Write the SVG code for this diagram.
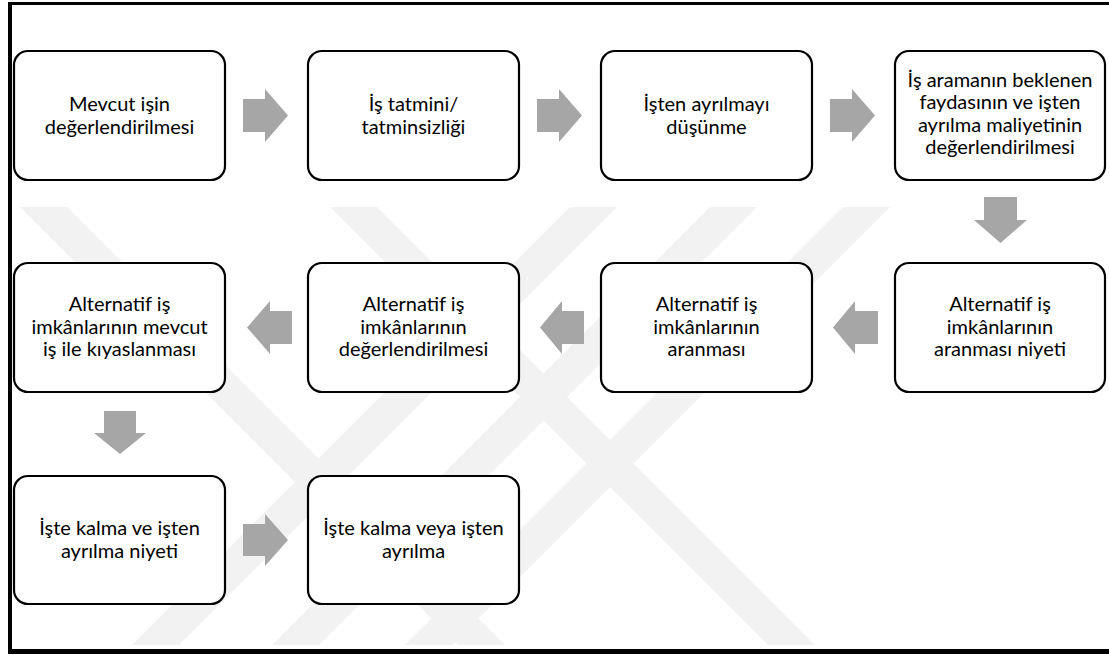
<svg xmlns="http://www.w3.org/2000/svg" width="1109" height="655" viewBox="0 0 1109 655">
<style>
.box{fill:#fff;stroke:#000;stroke-width:2.2}
.t{font-family:Lato,"Noto Sans",sans-serif;font-size:20px;fill:#000;text-anchor:middle}
.arr{fill:#a6a6a6}
.wm{fill:#f2f2f2}
</style>
<defs>
<clipPath id="wc"><rect x="12" y="195" width="1093" height="450"/></clipPath>
</defs>
<rect x="0" y="0" width="1109" height="655" fill="#fff"/>
<g id="watermark" clip-path="url(#wc)">
<polygon class="wm" points="570,207 617,207 179,645 132,645"/>
<polygon class="wm" points="710,207 757,207 319,645 272,645"/>
<polygon class="wm" points="843,207 890,207 452,645 405,645"/>
<polygon class="wm" points="330,207 377,207 815,645 768,645"/>
<polygon class="wm" points="20,207 67,207 505,645 458,645"/>
</g>
<g id="frame">
<rect x="9" y="2" width="1100" height="3" fill="#000"/>
<rect x="8" y="2" width="4" height="652" fill="#000"/>
<rect x="8" y="649" width="1101" height="5" fill="#000"/>
</g>
<g id="connectors">
<polygon class="arr" points="243,99 265,99 265,89 288,115.5 265,142 265,132 243,132"/>
<polygon class="arr" points="537,99 559,99 559,89 582,115.5 559,142 559,132 537,132"/>
<polygon class="arr" points="830,99 852,99 852,89 875,115.5 852,142 852,132 830,132"/>
<polygon class="arr" points="984,197 1017,197 1017,220 1027,220 1000.5,243 974,220 984,220"/>
<polygon class="arr" points="878,311 855,311 855,301 833,327.5 855,354 855,344 878,344"/>
<polygon class="arr" points="584,311 562,311 562,301 540,327.5 562,354 562,344 584,344"/>
<polygon class="arr" points="292,311 270,311 270,301 247,327.5 270,354 270,344 292,344"/>
<polygon class="arr" points="104,411 136,411 136,433 146,433 120,454 94,433 104,433"/>
<polygon class="arr" points="243,524 265,524 265,514 288,540 265,566 265,556 243,556"/>
</g>
<g id="n1"><rect class="box" x="14" y="51" width="211" height="129" rx="14"/>
<text class="t" x="119.5" y="111">Mevcut işin</text><text class="t" x="119.5" y="133.5">değerlendirilmesi</text></g>
<g id="n2"><rect class="box" x="308" y="51" width="211" height="129" rx="14"/>
<text class="t" x="413.5" y="111">İş tatmini/</text><text class="t" x="413.5" y="133.5">tatminsizliği</text></g>
<g id="n3"><rect class="box" x="601" y="51" width="211" height="129" rx="14"/>
<text class="t" x="706.5" y="111">İşten ayrılmayı</text><text class="t" x="706.5" y="133.5">düşünme</text></g>
<g id="n4"><rect class="box" x="895" y="51" width="210" height="129" rx="14"/>
<text class="t" x="1000" y="86.5">İş aramanın beklenen</text><text class="t" x="1000" y="109">faydasının ve işten</text><text class="t" x="1000" y="131.5">ayrılma maliyetinin</text><text class="t" x="1000" y="154">değerlendirilmesi</text></g>
<g id="n5"><rect class="box" x="895" y="263" width="210" height="129" rx="14"/>
<text class="t" x="1000" y="311">Alternatif iş</text><text class="t" x="1000" y="333.5">imkânlarının</text><text class="t" x="1000" y="356">aranması niyeti</text></g>
<g id="n6"><rect class="box" x="601" y="263" width="211" height="129" rx="14"/>
<text class="t" x="706.5" y="311">Alternatif iş</text><text class="t" x="706.5" y="333.5">imkânlarının</text><text class="t" x="706.5" y="356">aranması</text></g>
<g id="n7"><rect class="box" x="308" y="263" width="211" height="129" rx="14"/>
<text class="t" x="413.5" y="311">Alternatif iş</text><text class="t" x="413.5" y="333.5">imkânlarının</text><text class="t" x="413.5" y="356">değerlendirilmesi</text></g>
<g id="n8"><rect class="box" x="14" y="263" width="211" height="129" rx="14"/>
<text class="t" x="119.5" y="311">Alternatif iş</text><text class="t" x="119.5" y="333.5">imkânlarının mevcut</text><text class="t" x="119.5" y="356">iş ile kıyaslanması</text></g>
<g id="n9"><rect class="box" x="14" y="476" width="211" height="128" rx="14"/>
<text class="t" x="119.5" y="535">İşte kalma ve işten</text><text class="t" x="119.5" y="557.5">ayrılma niyeti</text></g>
<g id="n10"><rect class="box" x="308" y="476" width="211" height="128" rx="14"/>
<text class="t" x="413.5" y="535">İşte kalma veya işten</text><text class="t" x="413.5" y="557.5">ayrılma</text></g>
</svg>
